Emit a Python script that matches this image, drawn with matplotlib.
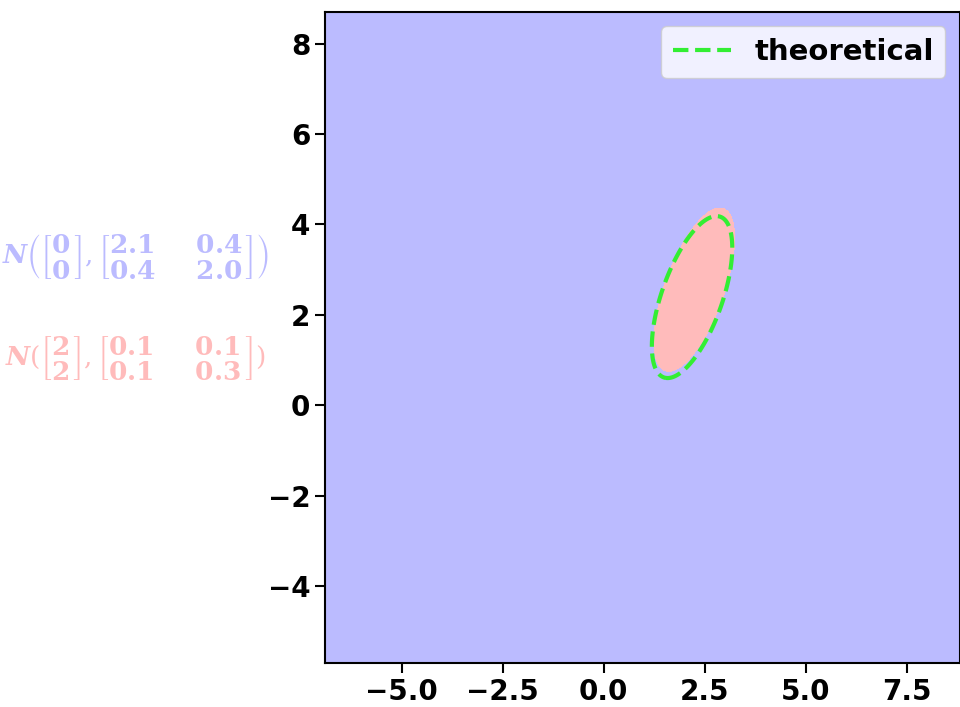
import numpy as np
import matplotlib
matplotlib.use('Agg')
import matplotlib.pyplot as plt

plt.rcParams['mathtext.fontset'] = 'dejavuserif'

# 两个高斯分布参数
mu1 = [0.0, 0.0]
cov1 = [[2.1, 0.4], [0.4, 2.0]]
mu2 = [2.0, 2.0]
cov2 = [[0.1, 0.1], [0.1, 0.3]]
# 估计得到的参数 (填色区域)
mu2_est = [2.05, 2.15]
cov2_est = [[0.095, 0.1], [0.1, 0.29]]

xlim = [-6.9, 8.82]
ylim = [-5.7, 8.7]
xticks = [-5.0, -2.5, 0.0, 2.5, 5.0, 7.5]
yticks = [-4, -2, 0, 2, 4, 6, 8]


def logpdf(X, Y, mu, cov):
    cov = np.array(cov)
    inv = np.linalg.inv(cov)
    dx = X - mu[0]
    dy = Y - mu[1]
    m = inv[0, 0]*dx*dx + 2*inv[0, 1]*dx*dy + inv[1, 1]*dy*dy
    return -0.5*m - 0.5*np.log(np.linalg.det(cov)) - np.log(2*np.pi)


xs = np.linspace(xlim[0], xlim[1], 800)
ys = np.linspace(ylim[0], ylim[1], 800)
X, Y = np.meshgrid(xs, ys)

d_est = logpdf(X, Y, mu2_est, cov2_est) - logpdf(X, Y, mu1, cov1)
d_th = logpdf(X, Y, mu2, cov2) - logpdf(X, Y, mu1, cov1)


def mat(a, b, c, d):
    return (r'\left[\genfrac{}{}{0}{0}{\mathbf{%s}}{\mathbf{%s}}\quad\enspace'
            r'\genfrac{}{}{0}{0}{\mathbf{%s}}{\mathbf{%s}}\right]' % (a, c, b, d))


lab1 = (r'$\boldsymbol{N}\left(\genfrac{[}{]}{0}{0}{\mathbf{0}}{\mathbf{0}},'
        + mat('2.1', '0.4', '0.4', '2.0') + r'\right)$')
lab2 = (r'$\boldsymbol{N}(\genfrac{[}{]}{0}{0}{\mathbf{2}}{\mathbf{2}},'
        + mat('0.1', '0.1', '0.1', '0.3') + r')$')

fig = plt.figure(figsize=(9.6, 7.07), dpi=100)
ax = fig.add_axes([0.3385, 0.0622, 0.6615, 0.921])
ax.contourf(X, Y, d_est, levels=[-1e9, 0, 1e9], colors=['#bbbbff', '#ffbbbb'])
cs = ax.contour(X, Y, d_th, levels=[0], colors=['#33ee33'], linewidths=3, linestyles='--')
ax.plot([], [], '--', color='#33ee33', lw=3, label='theoretical')
ax.set_xlim(xlim)
ax.set_ylim(ylim)
ax.set_xticks(xticks)
ax.set_yticks(yticks)
for lab in ax.get_xticklabels() + ax.get_yticklabels():
    lab.set_fontweight('bold')
    lab.set_fontsize(20)
for s in ax.spines.values():
    s.set_linewidth(1.5)
ax.tick_params(width=1.5, length=7)
ax.legend(loc='upper right', prop={'weight': 'bold', 'size': 21})

fig.text(2/960, 1 - 256/707, lab1, color='#bbbbff', fontsize=19, ha='left', va='center')
fig.text(5/960, 1 - 359/707, lab2, color='#ffbbbb', fontsize=19, ha='left', va='center')

plt.savefig('out.png')
